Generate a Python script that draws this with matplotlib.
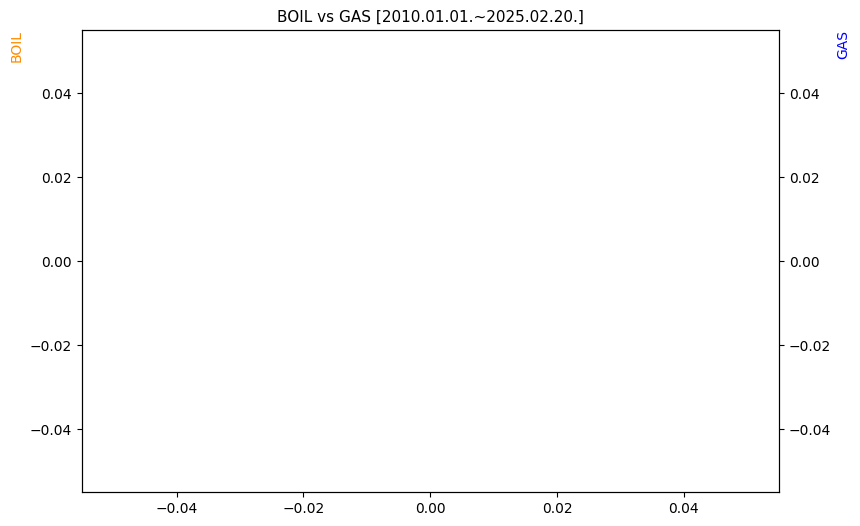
import matplotlib
matplotlib.use("Agg")
import matplotlib.pyplot as plt

# no data rows in the selected period -> empty series
dates = []
boil = []
gas = []

start = "2010.01.01."
end = "2025.02.20."

fig, ax1 = plt.subplots(figsize=(9, 6))
ax2 = ax1.twinx()

ax1.plot(dates, boil, color="darkorange", label="BOIL")
ax2.plot(dates, gas, color="blue", label="GAS")

ax1.set_ylabel("BOIL", color="darkorange", loc="top")
ax2.set_ylabel("GAS", color="blue", loc="top")
plt.title(f"BOIL vs GAS [{start}~{end}]", fontsize=11)

plt.savefig("out.png", dpi=100, bbox_inches="tight")
